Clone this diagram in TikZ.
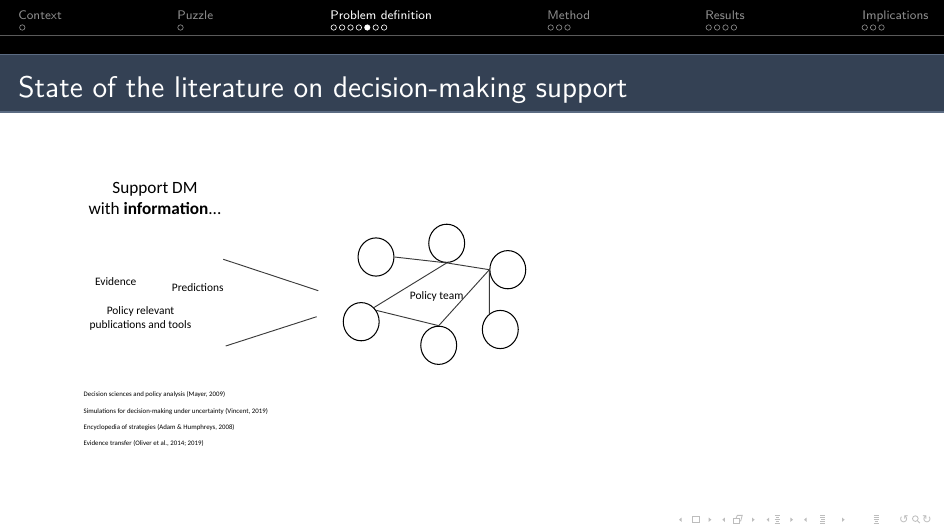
\documentclass[tikz,border=0pt]{standalone}
\usepackage{fontspec}
\newfontfamily\calibri{Carlito}
\newfontfamily\navfont{DejaVu Sans}
\usepackage{tikz}
\usetikzlibrary{positioning}
\usetikzlibrary{shapes.geometric}
\usepackage{xcolor}
\definecolor{barblue}{HTML}{344154}
\definecolor{baredge}{HTML}{5B6B82}
\definecolor{headgray}{HTML}{8F8F8F}
\definecolor{ruleg}{HTML}{5A5A5A}
\definecolor{navgray}{HTML}{BDBDBD}
\definecolor{linkgray}{HTML}{3A3A3A}
\tikzset{sect/.style={anchor=base west,inner sep=0pt,text=headgray,font=\sffamily\fontsize{6}{7}\selectfont}}
\tikzset{cursect/.style={sect,text=white}}
\tikzset{minidot/.style={draw=headgray,line width=0.3pt}}
\tikzset{curdot/.style={draw=white,line width=0.3pt}}
\tikzset{member/.style={ellipse,draw,line width=0.5pt,minimum width=17.3pt,minimum height=18.4pt,inner sep=0pt}}
\tikzset{link/.style={draw=linkgray,line width=0.45pt}}
\tikzset{lbl/.style={inner sep=0pt,align=center,font=\calibri\fontsize{5.5}{6.8}\selectfont}}
\tikzset{refline/.style={anchor=base west,inner sep=0pt,font=\calibri\fontsize{3.3}{4}\selectfont}}
\tikzset{navsym/.style={navgray,line width=0.4pt}}

\begin{document}
\begin{tikzpicture}[x=0.482pt,y=-0.482pt]
	\useasboundingbox (0,0) rectangle (944,531);

	% headline with sections
	\fill[black] (0,0) rectangle (944,54.5);
	\draw[ruleg,line width=0.5pt] (0,35.7) -- (944,35.7);

	\node[sect] (ctx) at (18,19.3) {Context};
	\node[sect] (pzl) at (177,19.3) {Puzzle};
	\node[cursect] (pdef) at (330,19.3) {Problem definition};
	\node[sect] (mth) at (547,19.3) {Method};
	\node[sect] (res) at (705,19.3) {Results};
	\node[sect] (imp) at (862,19.3) {Implications};

	\draw[minidot] (22.3,27.5) circle (2.7);
	\draw[minidot] (180.5,27.5) circle (2.7);
	\draw[curdot] (333.7,27.5) circle (2.7);
	\draw[curdot] (342.1,27.5) circle (2.7);
	\draw[curdot] (350.5,27.5) circle (2.7);
	\draw[curdot] (358.9,27.5) circle (2.7);
	\draw[curdot,fill=white] (367.3,27.5) circle (2.7);
	\draw[curdot] (375.7,27.5) circle (2.7);
	\draw[curdot] (384.1,27.5) circle (2.7);
	\draw[minidot] (550.7,27.5) circle (2.7);
	\draw[minidot] (559.1,27.5) circle (2.7);
	\draw[minidot] (567.5,27.5) circle (2.7);
	\draw[minidot] (708.7,27.5) circle (2.7);
	\draw[minidot] (717.1,27.5) circle (2.7);
	\draw[minidot] (725.5,27.5) circle (2.7);
	\draw[minidot] (733.9,27.5) circle (2.7);
	\draw[minidot] (864.7,27.5) circle (2.7);
	\draw[minidot] (873.1,27.5) circle (2.7);
	\draw[minidot] (881.5,27.5) circle (2.7);

	% frame title
	\fill[barblue] (0,54.5) rectangle (944,112.3);
	\draw[baredge,line width=0.5pt] (0,54.8) -- (944,54.8);
	\draw[baredge,line width=0.5pt] (0,112) -- (944,112);
	\node[anchor=base west,inner sep=0pt,text=white,font=\sffamily\fontsize{14.4}{17}\selectfont] (ttl) at (18,97.7) {State of the literature on decision-making support};

	% information side
	\node[lbl,font=\calibri\fontsize{8.3}{10}\selectfont] (sup) at (155,198.5) {Support DM\\with \textbf{information}...};
	\node[lbl] (evid) at (115.7,281.5) {Evidence};
	\node[lbl] (pred) at (197.7,287.5) {Predictions};
	\node[lbl] (pubs) at (140.5,318.3) {Policy relevant\\publications and tools};

	\coordinate (u1) at (223.3,259.3);
	\coordinate (u2) at (318.3,290.7);
	\coordinate (l1) at (225.7,346);
	\coordinate (l2) at (316.7,316.7);
	\draw[link] (u1) -- (u2);
	\draw[link] (l1) -- (l2);

	% policy team
	\node[member] (m1) at (376,257) {};
	\node[member] (m2) at (446.7,243.3) {};
	\node[member] (m3) at (507.8,269.7) {};
	\node[member] (m4) at (361.2,321.7) {};
	\node[member] (m5) at (438.7,345.3) {};
	\node[member] (m6) at (500.3,329.5) {};
	\node[lbl] (team) at (436.7,296) {Policy team};

	\draw[link] (m1.east) -- (m2.south) -- (m3.west);
	\draw[link] (m2.south) -- (m4.48);
	\draw[link] (m4.37) -- (m5.north);
	\draw[link] (m5.north) -- (m3.west);
	\draw[link] (m3.west) -- (m6.125);

	% literature
	\node[refline] (r1) at (83.3,396.7) {Decision sciences and policy analysis (Mayer, 2009)};
	\node[refline] (r2) at (83.3,413.3) {Simulations for decision-making under uncertainty (Vincent, 2019)};
	\node[refline] (r3) at (83.3,429.3) {Encyclopedia of strategies (Adam \& Humphreys, 2008)};
	\node[refline] (r4) at (83.3,445) {Evidence transfer (Oliver et al., 2014; 2019)};

	% navigation symbols
	\fill[navgray] (679,519.7) -- (681.6,517.5) -- (681.6,521.9) -- cycle;
	\fill[navgray] (711.3,519.7) -- (708.7,517.5) -- (708.7,521.9) -- cycle;
	\fill[navgray] (722.3,519.7) -- (724.9,517.5) -- (724.9,521.9) -- cycle;
	\fill[navgray] (754.6,519.7) -- (752,517.5) -- (752,521.9) -- cycle;
	\fill[navgray] (766.6,519.7) -- (769.2,517.5) -- (769.2,521.9) -- cycle;
	\fill[navgray] (793,519.7) -- (790.4,517.5) -- (790.4,521.9) -- cycle;
	\fill[navgray] (804,519.7) -- (806.6,517.5) -- (806.6,521.9) -- cycle;
	\fill[navgray] (844.6,519.7) -- (842,517.5) -- (842,521.9) -- cycle;
	\draw[navsym] (692.7,516.8) rectangle (699.3,522.4);
	\draw[navsym] (733.5,518.8) rectangle (739,523.4);
	\draw[navsym] (735.8,518.8) -- (737.3,515.4) -- (742.2,515.4) -- (740.7,521) -- (739,521);
	\draw[navsym] (774.5,515.8) -- (779.5,515.8) (775.5,517.8) -- (779,517.8) (774.5,519.8) -- (779.5,519.8) (775.5,521.8) -- (779,521.8) (774.5,523.8) -- (779.5,523.8);
	\draw[navsym] (820,515.8) -- (825,515.8) (820,517.8) -- (825,517.8) (821,519.8) -- (824.5,519.8) (820,521.8) -- (825,521.8) (820,523.8) -- (825,523.8);
	\draw[navsym] (873.5,515.8) -- (878.5,515.8) (873.5,517.8) -- (878.5,517.8) (873.5,519.8) -- (878.5,519.8) (874.5,521.8) -- (877.5,521.8) (873.5,523.8) -- (878.5,523.8);
	\node[inner sep=0pt,text=navgray,font=\navfont\fontsize{5.5}{5.5}\selectfont] (undo) at (904,519.5) {↺};
	\draw[navsym] (915.3,518.6) circle (2.8);
	\draw[navsym] (917.3,520.6) -- (919.8,523.1);
	\node[inner sep=0pt,text=navgray,font=\navfont\fontsize{5.5}{5.5}\selectfont] (redo) at (927,519.5) {↻};
\end{tikzpicture}
\end{document}
